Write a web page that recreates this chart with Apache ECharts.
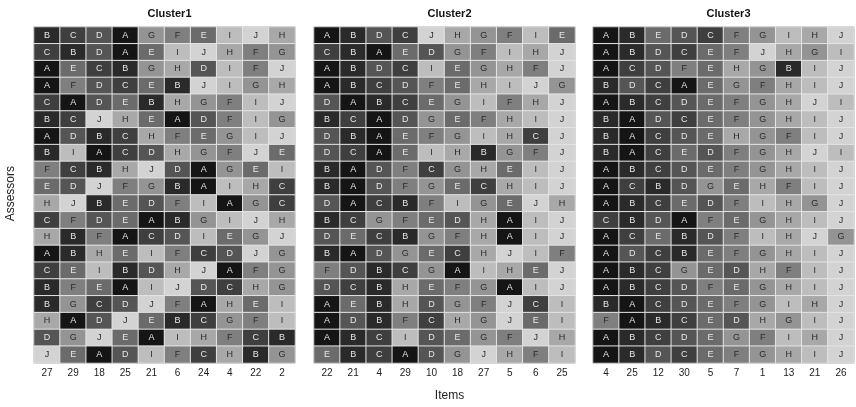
<!DOCTYPE html>
<html>
<head>
<meta charset="utf-8">
<script src="https://cdn.jsdelivr.net/npm/echarts@6/dist/echarts.min.js"></script>
<style>
  html, body { margin: 0; padding: 0; background: #fff; }
  #chart { width: 856px; height: 407px; }
</style>
</head>
<body>
<div id="chart"></div>
<script>
// Rank letters (A = first choice ... J = last) given by each assessor, one row per assessor.
const rankLetters = ['A', 'B', 'C', 'D', 'E', 'F', 'G', 'H', 'I', 'J'];

const cluster1Items = ['27', '29', '18', '25', '21', '6', '24', '4', '22', '2'];
const cluster1Ranks = [
  'BCDAGFEIJH', 'CBDAEIJHFG', 'AECBGHDIFJ', 'AFDCEBJIGH', 'CADEBHGFIJ',
  'BCJHEADFIG', 'ADBCHFEGIJ', 'BIACDHGFJE', 'FCBHJDAGEI', 'EDJFGBAIHC',
  'HJBEDFIAGC', 'CFDEABGIJH', 'HBFACDIEGJ', 'ABHEIFCDJG', 'CEIBDHJAFG',
  'BFEAIJDCHG', 'BGCDJFAHEI', 'HADJEBCGFI', 'DGJEAIHFCB', 'JEADIFCHBG'
];

const cluster2Items = ['22', '21', '4', '29', '10', '18', '27', '5', '6', '25'];
const cluster2Ranks = [
  'ABDCJHGFIE', 'CBAEDGFIHJ', 'ABDCIEGHFJ', 'ABCDFEHIJG', 'DABCEGIFHJ',
  'BCADGEFHIJ', 'DBAEFGIHCJ', 'DCAEIHBGFJ', 'BADFCGHEIJ', 'BADFGECHIJ',
  'DACBFIGEJH', 'BCGFEDHAIJ', 'DECBGFHAIJ', 'BADGECHJIF', 'FDBCGAIHEJ',
  'DCBHEFGAIJ', 'AEBHDGFJCI', 'ADBFCHGJEI', 'ABCIDEGFJH', 'EBCADGJHFI'
];

const cluster3Items = ['4', '25', '12', '30', '5', '7', '1', '13', '21', '26'];
const cluster3Ranks = [
  'ABEDCFGIHJ', 'ABDCEFJHGI', 'ACDFEHGBIJ', 'BDCAEGFHIJ', 'ABCDEFGHJI',
  'BADCEFGHIJ', 'BACDEHGFIJ', 'BACEDFGHJI', 'ABCDEFGHIJ', 'ACBDGEHFIJ',
  'ABCEDFIHGJ', 'CBDAFEGHIJ', 'ACEBDFIHJG', 'ADCBEFGHIJ', 'ABCGEDHFIJ',
  'ABCDFEGHIJ', 'BACDEFGIHJ', 'FABCEDHGIJ', 'ABCDEGFIHJ', 'ABDCEFGHIJ'
];

const clusterNames = ['Cluster1', 'Cluster2', 'Cluster3'];
const clusterItems = [cluster1Items, cluster2Items, cluster3Items];
const clusterRanks = [cluster1Ranks, cluster2Ranks, cluster3Ranks];

// Grey ramp from darkest (A) to lightest (J)
const shades = ['#151515', '#2a2a2a', '#3f3f3f', '#555555', '#6b6b6b', '#7f7f7f',
                '#949494', '#a8a8a8', '#bdbdbd', '#d3d3d3'];

const panelLeft = [34, 314, 593];
const panelWidth = 261;
const panelTop = 27;
const panelHeight = 336;

const rowNames = cluster1Ranks.map((_, i) => String(i + 1));

const grids = [], xAxes = [], yAxes = [], series = [], titles = [];

clusterNames.forEach((name, k) => {
  grids.push({
    left: panelLeft[k], top: panelTop, width: panelWidth, height: panelHeight,
    show: true, borderColor: '#4a4a4a', borderWidth: 1, backgroundColor: 'transparent'
  });
  titles.push({
    text: name, left: panelLeft[k] + panelWidth / 2, top: 3, textAlign: 'center',
    textStyle: { fontFamily: 'Liberation Sans', fontSize: 11, fontWeight: 'bold', color: '#111' }
  });
  xAxes.push({
    type: 'category', gridIndex: k, data: clusterItems[k], position: 'bottom',
    axisLine: { show: false }, axisTick: { show: false }, splitLine: { show: false },
    axisLabel: { margin: 5, fontFamily: 'Liberation Sans', fontSize: 10, color: '#222' }
  });
  yAxes.push({
    type: 'category', gridIndex: k, data: rowNames, inverse: true,
    axisLine: { show: false }, axisTick: { show: false }, axisLabel: { show: false },
    splitLine: { show: false }
  });
  const data = [];
  clusterRanks[k].forEach((row, r) => {
    row.split('').forEach((letter, c) => {
      const idx = rankLetters.indexOf(letter);
      data.push({
        value: [c, r, idx],
        itemStyle: { color: shades[idx] },
        label: { color: idx <= 4 ? '#e6e6e6' : '#2a2a2a' }
      });
    });
  });
  series.push({
    type: 'heatmap', xAxisIndex: k, yAxisIndex: k, data: data,
    itemStyle: { borderColor: '#e4e4e4', borderWidth: 1 },
    label: {
      show: true, fontFamily: 'Liberation Sans', fontSize: 9,
      formatter: p => rankLetters[p.value[2]]
    },
    emphasis: { disabled: true }
  });
});

titles.push({
  text: 'Items', left: panelLeft[1] + panelWidth / 2, top: 385, textAlign: 'center',
  textStyle: { fontFamily: 'Liberation Sans', fontSize: 12, fontWeight: 'normal', color: '#222' }
});

const chart = echarts.init(document.getElementById('chart'), null, { renderer: 'canvas' });
chart.setOption({
  animation: false,
  backgroundColor: '#ffffff',
  title: titles,
  grid: grids,
  xAxis: xAxes,
  yAxis: yAxes,
  series: series,
  graphic: [{
    type: 'text', left: 5, top: 166, rotation: Math.PI / 2,
    style: { text: 'Assessors', font: '12px "Liberation Sans"', fill: '#222' }
  }]
});
</script>
</body>
</html>
